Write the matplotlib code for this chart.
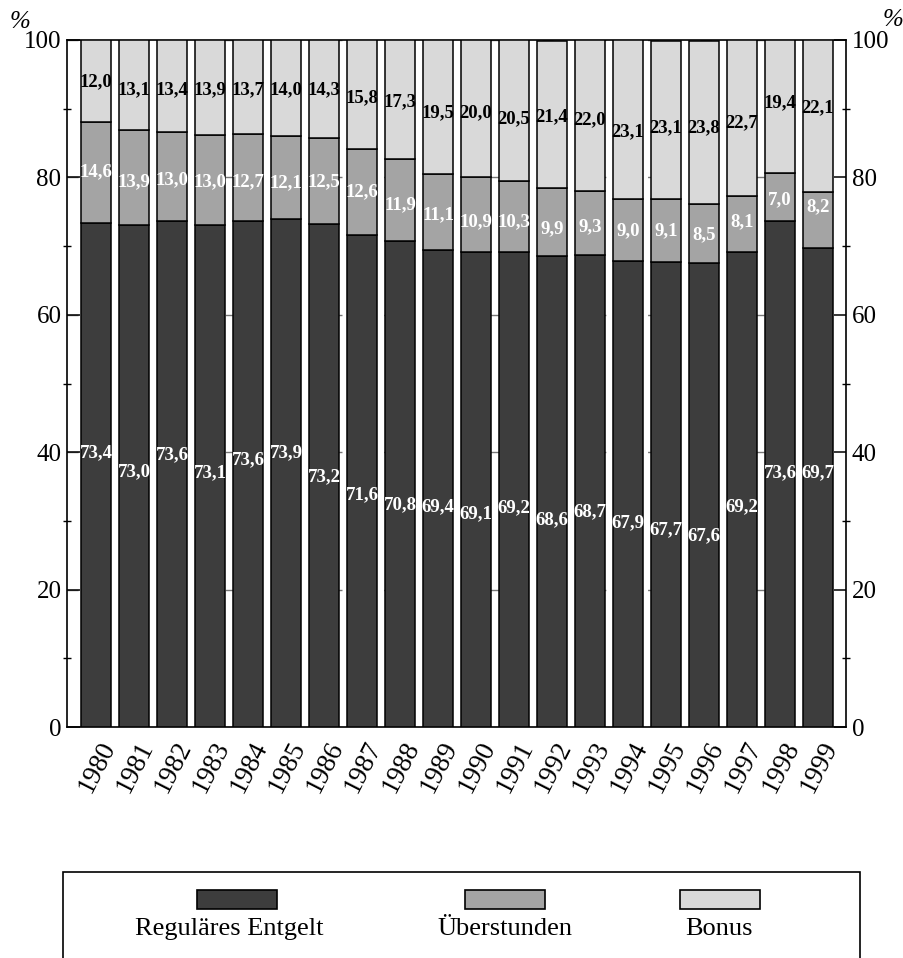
import matplotlib
matplotlib.use("Agg")
import matplotlib.pyplot as plt
from matplotlib.patches import Rectangle
from matplotlib.ticker import MultipleLocator
import numpy as np

plt.rcParams['font.family'] = ['Liberation Serif', 'DejaVu Serif']

years = [str(y) for y in range(1980, 2000)]
regular = [73.4, 73.0, 73.6, 73.1, 73.6, 73.9, 73.2, 71.6, 70.8, 69.4,
           69.1, 69.2, 68.6, 68.7, 67.9, 67.7, 67.6, 69.2, 73.6, 69.7]
overtime = [14.6, 13.9, 13.0, 13.0, 12.7, 12.1, 12.5, 12.6, 11.9, 11.1,
            10.9, 10.3, 9.9, 9.3, 9.0, 9.1, 8.5, 8.1, 7.0, 8.2]
bonus = [12.0, 13.1, 13.4, 13.9, 13.7, 14.0, 14.3, 15.8, 17.3, 19.5,
         20.0, 20.5, 21.4, 22.0, 23.1, 23.1, 23.8, 22.7, 19.4, 22.1]
series_names = ['Reguläres Entgelt', 'Überstunden', 'Bonus']

# label heights (text placement, in % units)
lab_reg_y = [39.9, 37.1, 39.6, 37.0, 38.9, 39.9, 36.4, 33.8, 32.3, 32.0,
             31.1, 31.9, 30.1, 31.3, 29.8, 28.7, 27.9, 32.0, 37.0, 37.0]
lab_ot_y = [80.8, 79.3, 79.6, 79.3, 79.3, 79.2, 79.3, 77.9, 76.0, 74.5,
            73.5, 73.5, 72.6, 72.8, 72.3, 72.3, 71.6, 73.5, 76.7, 75.7]
lab_bo_y = [93.9, 92.7, 92.7, 92.7, 92.7, 92.7, 92.7, 91.6, 91.0, 89.4,
            89.4, 88.6, 88.8, 88.4, 86.6, 87.3, 87.3, 87.9, 90.8, 90.1]

colors = ['#3d3d3d', '#a4a4a4', '#d9d9d9']
text_colors = ['white', 'white', 'black']

W, H = 904, 958
fig = plt.figure(figsize=(W / 100, H / 100), dpi=100)
ax = fig.add_axes([67 / W, 1 - 727 / H, (846 - 67) / W, (727 - 40) / H])

x = np.arange(len(years))
reg = np.array(regular)
ot = np.array(overtime)
bo = np.array(bonus)
bw = 0.79
ax.bar(x, reg, width=bw, color=colors[0], edgecolor='black', linewidth=1.1, zorder=3)
ax.bar(x, ot, width=bw, bottom=reg, color=colors[1], edgecolor='black', linewidth=1.1, zorder=3)
ax.bar(x, bo, width=bw, bottom=reg + ot, color=colors[2], edgecolor='black', linewidth=1.1, zorder=3)

def fmt(v):
    return f"{v:.1f}".replace('.', ',')

for i in range(len(years)):
    ax.text(x[i], lab_reg_y[i], fmt(regular[i]), ha='center', va='center',
            color=text_colors[0], fontsize=13.5, fontweight='bold', zorder=5)
    ax.text(x[i], lab_ot_y[i], fmt(overtime[i]), ha='center', va='center',
            color=text_colors[1], fontsize=13.5, fontweight='bold', zorder=5)
    ax.text(x[i], lab_bo_y[i], fmt(bonus[i]), ha='center', va='center',
            color=text_colors[2], fontsize=13.5, fontweight='bold', zorder=5)
    ax.text(x[i] + 0.36, -2.3, years[i], rotation=63, ha='right', va='center',
            rotation_mode='anchor', fontsize=19.5, clip_on=False)

ax.set_xlim(-0.764, 19.738)
ax.set_ylim(0, 100)
ax.set_xticks([])
ax.yaxis.set_major_locator(MultipleLocator(20))
ax.yaxis.set_minor_locator(MultipleLocator(10))
ax.tick_params(axis='y', which='major', direction='in', length=9, width=1.1,
               labelsize=18, pad=4, left=True, right=True, labelleft=True, labelright=True)
ax.tick_params(axis='y', which='minor', direction='inout', length=6, width=1.0,
               left=True, right=True)
for s in ax.spines.values():
    s.set_linewidth(1.2)

ax.yaxis.grid(True, which='major', color='#777777', linewidth=1.0,
              linestyle=(0, (8, 30)), zorder=0)
ax.set_axisbelow(True)

fig.text(20 / W, 1 - 22 / H, '%', fontsize=18, ha='center', va='center', style='italic')
fig.text(893 / W, 1 - 20 / H, '%', fontsize=18, ha='center', va='center', style='italic')

# legend box
fig.add_artist(Rectangle((63 / W, -0.05), (860 - 63) / W, (958 - 872) / H + 0.05,
                         transform=fig.transFigure, fill=False, edgecolor='black',
                         linewidth=1.2))
patch_cx = [237, 505, 720]
text_cx = [229, 505, 719]
for k in range(3):
    fig.add_artist(Rectangle(((patch_cx[k] - 40) / W, 1 - 909 / H), 80 / W, 19 / H,
                             transform=fig.transFigure, facecolor=colors[k],
                             edgecolor='black', linewidth=1.2))
    fig.text(text_cx[k] / W, 1 - 929 / H, series_names[k], fontsize=19,
             ha='center', va='center')

fig.savefig('out.png', dpi=100)
